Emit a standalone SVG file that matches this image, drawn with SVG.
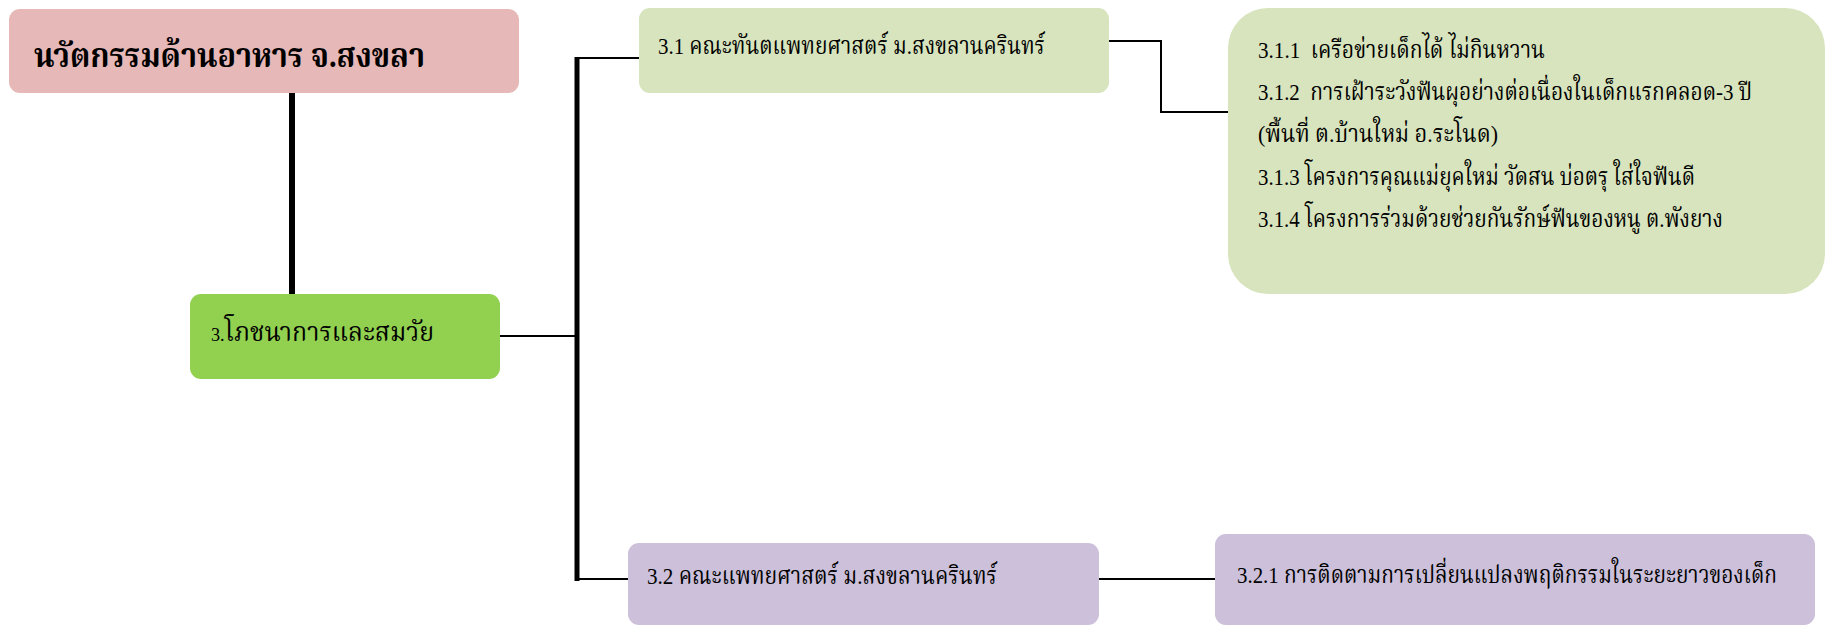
<svg xmlns="http://www.w3.org/2000/svg" width="1827" height="626" viewBox="0 0 1827 626">
<style>
.t{font-family:"Liberation Serif","Noto Serif Thai","Noto Sans Thai",serif;fill:#000;white-space:pre;}
.n{font-size:24px;}
.ln{stroke:#000;fill:none;}
</style>
<rect width="1827" height="626" fill="#fff"/>
<g id="connectors">
<line class="ln" x1="292" y1="92" x2="292" y2="295" stroke-width="6"/>
<line class="ln" x1="500" y1="336" x2="577" y2="336" stroke-width="2"/>
<line class="ln" x1="577" y1="57" x2="577" y2="581" stroke-width="5"/>
<line class="ln" x1="575" y1="58" x2="639" y2="58" stroke-width="2"/>
<line class="ln" x1="575" y1="579" x2="628" y2="579" stroke-width="2"/>
<polyline class="ln" points="1082,41 1161,41 1161,112 1241,112" stroke-width="2"/>
<line class="ln" x1="1099" y1="579" x2="1240" y2="579" stroke-width="2"/>
</g>
<g id="n-title">
<rect x="9" y="9" width="510" height="84" rx="11" fill="#E6B8B7"/>
<text class="t" x="34" y="67" font-size="34" font-weight="bold" textLength="391" lengthAdjust="spacingAndGlyphs">นวัตกรรมด้านอาหาร จ.สงขลา</text>
</g>
<g id="n-3">
<rect x="190" y="294" width="310" height="85" rx="11" fill="#92D050"/>
<text class="t" x="211" y="341" font-size="26" textLength="223" lengthAdjust="spacingAndGlyphs"><tspan font-size="19">3.</tspan>โภชนาการและสมวัย</text>
</g>
<g id="n-3-1">
<rect x="639" y="8" width="470" height="85" rx="11" fill="#D7E4BD"/>
<text class="t n" x="658" y="54" textLength="387" lengthAdjust="spacingAndGlyphs">3.1 คณะทันตแพทยศาสตร์ ม.สงขลานครินทร์</text>
</g>
<g id="n-3-1-x">
<rect x="1228" y="8" width="597" height="286" rx="40" fill="#D7E4BD"/>
<text class="t n" x="1258" y="58" textLength="287" lengthAdjust="spacingAndGlyphs" xml:space="preserve">3.1.1  เครือข่ายเด็กได้ ไม่กินหวาน</text>
<text class="t n" x="1258" y="100" textLength="494" lengthAdjust="spacingAndGlyphs" xml:space="preserve">3.1.2  การเฝ้าระวังฟันผุอย่างต่อเนื่องในเด็กแรกคลอด-3 ปี</text>
<text class="t n" x="1258" y="142" textLength="240" lengthAdjust="spacingAndGlyphs">(พื้นที่ ต.บ้านใหม่ อ.ระโนด)</text>
<text class="t n" x="1258" y="185" textLength="437" lengthAdjust="spacingAndGlyphs">3.1.3 โครงการคุณแม่ยุคใหม่ วัดสน บ่อตรุ ใส่ใจฟันดี</text>
<text class="t n" x="1258" y="227" textLength="465" lengthAdjust="spacingAndGlyphs">3.1.4 โครงการร่วมด้วยช่วยกันรักษ์ฟันของหนู ต.พังยาง</text>
</g>
<g id="n-3-2">
<rect x="628" y="543" width="471" height="82" rx="11" fill="#CCC0DA"/>
<text class="t n" x="647" y="584" textLength="350" lengthAdjust="spacingAndGlyphs">3.2 คณะแพทยศาสตร์ ม.สงขลานครินทร์</text>
</g>
<g id="n-3-2-1">
<rect x="1215" y="534" width="600" height="91" rx="11" fill="#CCC0DA"/>
<text class="t n" x="1237" y="583" textLength="540" lengthAdjust="spacingAndGlyphs">3.2.1 การติดตามการเปลี่ยนแปลงพฤติกรรมในระยะยาวของเด็ก</text>
</g>
</svg>
